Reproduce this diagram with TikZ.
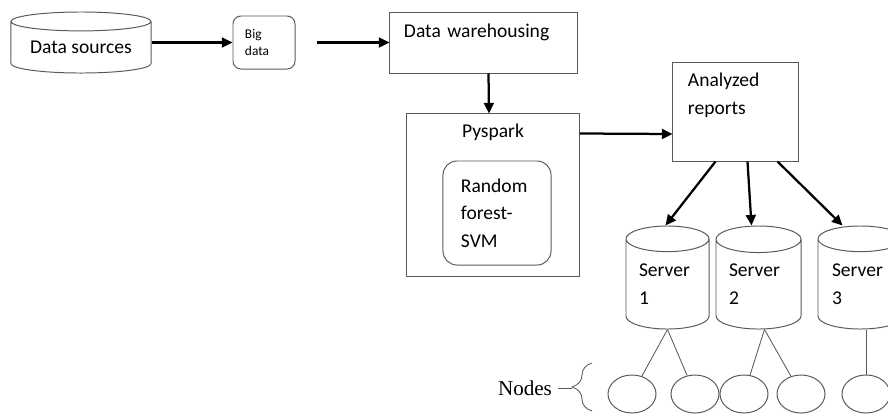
\documentclass[tikz,border=0pt]{standalone}
\usepackage{fontspec}
\setmainfont{Carlito}
\newfontfamily\timesfont{Liberation Serif}
\usetikzlibrary{shapes.geometric,arrows.meta,calc,decorations.pathreplacing}

\begin{document}
\begin{tikzpicture}[
                x=0.025cm, y=-0.025cm,
                font=\fontsize{13.9}{19.6}\selectfont,
                box/.style={
                    draw=black!65,
                    line width=0.7pt,
                    rectangle,
                    inner sep=0pt,
                    align=left
                },
                dbcyl/.style={
                    cylinder,
                    shape border rotate=90,
                    anchor=shape center,
                    draw=black!65,
                    line width=0.7pt,
                    inner sep=0pt,
                    align=left
                },
                worker/.style={
                    ellipse,
                    draw=black!65,
                    line width=0.7pt,
                    minimum width=1.2cm,
                    minimum height=0.95cm
                },
                arrow/.style={
                    ->,
                    line width=1.6pt,
                    >={Triangle[length=7.5pt,width=7pt]}
                },
                link/.style={
                    draw=black!65,
                    line width=0.6pt
                }
            ]
                \clip (0,0) rectangle (888,416);

                % top row
                \node[dbcyl, minimum width=3.5cm, minimum height=1.525cm, shape aspect=0.186] (src) at (81,42.5) {Data sources};
                \node[box, rounded corners=0.2cm, minimum width=1.55cm, minimum height=1.325cm, text width=0.95cm,
                      font=\fontsize{9.5}{12.5}\selectfont] (big) at (264,42.5) {Big\\data};
                \node[box, minimum width=4.675cm, text width=3.975cm, text height=0.625cm, text depth=0.9cm] (dw) at (483.5,42.5) {Data warehousing};

                % processing
                \node[box, minimum width=4.3cm, text width=4.3cm, align=center, text height=0.6cm, text depth=3.45cm] (py) at (493,195) {Pyspark};
                \node[box, rounded corners=0.35cm, minimum width=2.7cm, minimum height=2.6cm, text width=1.8cm] (rf) at (497,213) {Random\\forest-\\SVM};
                \node[box, minimum width=3.125cm, text width=2.375cm, text height=0.6cm, text depth=1.85cm] (ar) at (735.5,112) {Analyzed\\reports};

                % servers
                \node[dbcyl, minimum width=2.075cm, minimum height=2.575cm, shape aspect=0.45, text width=1.425cm] (s1) at (667.5,277.5) {Server\\1};
                \node[dbcyl, minimum width=2.125cm, minimum height=2.575cm, shape aspect=0.45, text width=1.475cm] (s2) at (758.5,277.5) {Server\\2};
                \node[dbcyl, minimum width=2.125cm, minimum height=2.575cm, shape aspect=0.45, text width=1.425cm] (s3) at (860.5,277.5) {Server\\3};

                % worker nodes
                \node[worker] (n1) at (632,394) {};
                \node[worker] (n2) at (695,394) {};
                \node[worker] (n3) at (744,394) {};
                \node[worker] (n4) at (801,394) {};
                \node[worker] (n5) at (866,394) {};
                \node[font=\timesfont\fontsize{15}{18}\selectfont, inner sep=4pt] (lbl) at (525,388) {Nodes};
                \coordinate (tip) at (572,388);

                \draw[arrow] (src.east |- big.west) -- (big.west);
                \draw[arrow] ($(big.east)+(21,0)$) -- (dw);
                \draw[arrow] ($(dw.south)+(5,0)$) -- ($(py.north)+(-4,0)$);
                \draw[arrow] ($(py.north east)+(0,20)$) -- ($(ar.west)+(0,22)$);
                \draw[arrow] ($(ar.south)+(-20,0)$) -- ($(s1.north)+(-2,0)$);
                \draw[arrow] ($(ar.south)+(12,0)$) -- ($(s2.north)+(-7,0)$);
                \draw[arrow] ($(ar.south)+(42,0)$) -- ($(s3.north)+(-18,0)$);

                \draw[link] (s1.south) -- (n1);
                \draw[link] (s1.south) -- (n2);
                \draw[link] ($(s2.south)+(6,0)$) -- (n3);
                \draw[link] ($(s2.south)+(6,0)$) -- (n4);
                \draw[link] (s3.south -| n5) -- (n5);

                \draw[link, decorate, decoration={brace, amplitude=0.5cm}] (592,411) -- (592,363);
                \draw[link] (lbl.east) -- (tip);
        \end{tikzpicture}
\end{document}
